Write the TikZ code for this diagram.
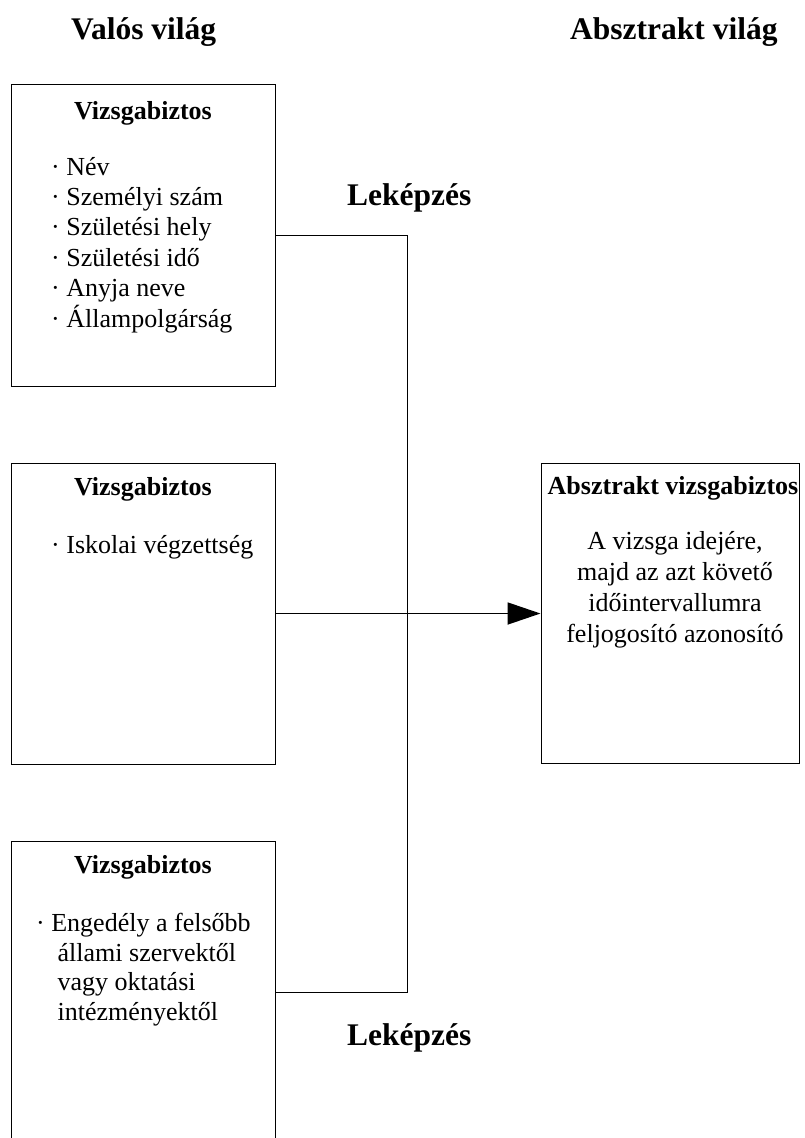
\documentclass[tikz,border=0pt]{standalone}
\usepackage{fontspec}
\setmainfont{Liberation Serif}
\usetikzlibrary{arrows.meta}

\begin{document}
\begin{tikzpicture}[x=1pt,y=-1pt,
  box/.style={draw=black,line width=1pt,rectangle,inner sep=0pt,fill=none},
  heading/.style={font=\fontsize{31.5}{36}\selectfont\bfseries,inner sep=0pt},
  boxtitle/.style={font=\fontsize{26}{30}\selectfont\bfseries,inner sep=0pt,anchor=base},
  item/.style={font=\fontsize{26}{30}\selectfont,inner sep=0pt,anchor=base west},
  centred/.style={font=\fontsize{26}{30}\selectfont,inner sep=0pt,anchor=base},
  link/.style={draw=black,line width=1pt},
  mapping/.style={draw=black,line width=1.8pt,-{Triangle[length=33pt,width=22pt]}}
]
\useasboundingbox (0,0) rectangle (805,1138);
\clip (0,0) rectangle (805,1138);
\fill[white] (0,0) rectangle (805,1138);

% column headings
\node[heading,anchor=base west] (hreal) at (71,39) {Valós világ};
\node[heading,anchor=base west] (habs) at (570,39) {Absztrakt világ};

% boxes of the real world
\node[box,minimum width=264pt,minimum height=302pt] (b1) at (143,235.5) {};
\node[box,minimum width=264pt,minimum height=301pt] (b2) at (143,613.5) {};
\node[box,minimum width=264pt,minimum height=302pt] (b3) at (143,992.5) {};

% the abstract box
\node[box,minimum width=258pt,minimum height=300pt] (r) at (670,613.5) {};

% box contents
\node[boxtitle] (t1) at (143,119) {Vizsgabiztos};
\foreach \txt [count=\i from 0] in {Név,Személyi szám,Születési hely,Születési idő,Anyja neve,Állampolgárság}
  \node[item] (p\i) at (51,175+30.4*\i) {· \txt};

\node[boxtitle] (t2) at (143,495) {Vizsgabiztos};
\node[item] (q0) at (51,553) {· Iskolai végzettség};

\node[boxtitle] (t3) at (143,873) {Vizsgabiztos};
\node[item] (s0) at (36,931) {· Engedély a felsőbb};
\node[item] (s1) at (57.5,961) {állami szervektől};
\node[item] (s2) at (57.5,990.5) {vagy oktatási};
\node[item] (s3) at (57.5,1020) {intézményektől};

\node[boxtitle] (tr) at (673,494) {Absztrakt vizsgabiztos};
\node[centred] (u0) at (675,549) {A vizsga idejére,};
\node[centred] (u1) at (675,580) {majd az azt követő};
\node[centred] (u2) at (675,611) {időintervallumra};
\node[centred] (u3) at (675,642) {feljogosító azonosító};

% mapping labels
\node[heading,anchor=base west] (m1) at (347,205) {Leképzés};
\node[heading,anchor=base west] (m2) at (347,1045) {Leképzés};

% connectors
\coordinate (j) at (407.5,613.5);
\draw[link] (b1.east) -| (j) |- (b3.east);
\draw[link] (b2.east) -- (j);
\draw[mapping] (j) -- (r.west);
\end{tikzpicture}
\end{document}
